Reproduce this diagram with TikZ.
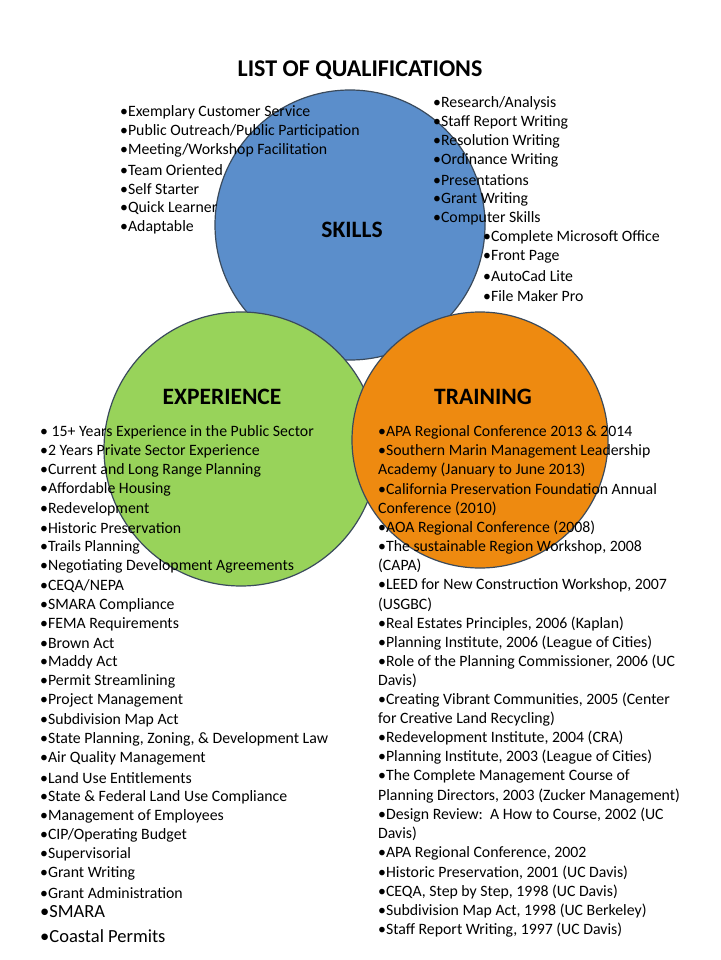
\documentclass[tikz,border=0pt]{standalone}
\usepackage{fontspec}
\setmainfont{Carlito}
\definecolor{cblue}{HTML}{5B8ECB}
\definecolor{cgreen}{HTML}{98D35A}
\definecolor{corange}{HTML}{EE8A10}
\definecolor{cline}{HTML}{3A4A5C}
\begin{document}
\begin{tikzpicture}[x=1pt,y=-1pt,
  item/.style={anchor=west,inner sep=0pt,font=\fontsize{15.8}{16}\selectfont},
  big/.style={anchor=west,inner sep=0pt,font=\fontsize{18.5}{19}\selectfont},
  circ/.style={draw=cline,line width=1.2pt},
  lab/.style={font=\bfseries\fontsize{23.5}{24}\selectfont}]
\useasboundingbox (0,0) rectangle (720,960);
\fill[white] (0,0) rectangle (720,960);
\node[font=\bfseries\fontsize{24}{25}\selectfont] (title) at (360,70) {LIST OF QUALIFICATIONS};
\draw[circ,fill=cblue] (350,225) circle (135);
\draw[circ,fill=cgreen] (241,449) circle (137);
\draw[circ,fill=corange] (480,440) circle (128);
\node[lab] (skills) at (352,230) {SKILLS};
\node[lab] (exp) at (222,397) {EXPERIENCE};
\node[lab] (train) at (483,397) {TRAINING};
\foreach \t [count=\i from 0] in {{Exemplary Customer Service},{Public Outreach/Public Participation},{Meeting/Workshop Facilitation},{Team Oriented},{Self Starter},{Quick Learner},{Adaptable}}
  \node[item] (sl\i) at (120,{112+19.2*\i}) {•\t};
\foreach \t [count=\i from 0] in {{Research/Analysis},{Staff Report Writing},{Resolution Writing},{Ordinance Writing},{Presentations},{Grant Writing},{Computer Skills}}
  \node[item] (sr\i) at (433,{103+19.2*\i}) {•\t};
\foreach \t [count=\i from 0] in {{Complete Microsoft Office},{Front Page},{AutoCad Lite},{File Maker Pro}}
  \node[item] (ss\i) at (483,{237+19.6*\i}) {•\t};
\foreach \t [count=\i from 0] in {{ 15+ Years Experience in the Public Sector},{2 Years Private Sector Experience},{Current and Long Range Planning},{Affordable Housing},{Redevelopment},{Historic Preservation},{Trails Planning},{Negotiating Development Agreements},{CEQA/NEPA},{SMARA Compliance},{FEMA Requirements},{Brown Act},{Maddy Act},{Permit Streamlining},{Project Management},{Subdivision Map Act},{State Planning, Zoning, \& Development Law},{Air Quality Management},{Land Use Entitlements},{State \& Federal Land Use Compliance},{Management of Employees},{CIP/Operating Budget},{Supervisorial},{Grant Writing},{Grant Administration}}
  \node[item] (e\i) at (40,{432+19.2*\i}) {•\t};
\node[big] (e25) at (40,912) {•SMARA};
\node[big] (e26) at (40,936) {•Coastal Permits};
\foreach \t [count=\i from 0] in {{•APA Regional Conference 2013 \& 2014},{•Southern Marin Management Leadership},{Academy (January to June 2013)},{•California Preservation Foundation Annual},{Conference (2010)},{•AOA Regional Conference (2008)},{•The sustainable Region Workshop, 2008},{(CAPA)},{•LEED for New Construction Workshop, 2007},{(USGBC)},{•Real Estates Principles, 2006 (Kaplan)},{•Planning Institute, 2006 (League of Cities)},{•Role of the Planning Commissioner, 2006 (UC},{Davis)},{•Creating Vibrant Communities, 2005 (Center},{for Creative Land Recycling)},{•Redevelopment Institute, 2004 (CRA)},{•Planning Institute, 2003 (League of Cities)},{•The Complete Management Course of},{Planning Directors, 2003 (Zucker Management)},{•Design Review:\ \ A How to Course, 2002 (UC},{Davis)},{•APA Regional Conference, 2002},{•Historic Preservation, 2001 (UC Davis)},{•CEQA, Step by Step, 1998 (UC Davis)},{•Subdivision Map Act, 1998 (UC Berkeley)},{•Staff Report Writing, 1997 (UC Davis)}}
  \node[item] (t\i) at (378,{432+19.15*\i}) {\t};
\end{tikzpicture}
\end{document}
